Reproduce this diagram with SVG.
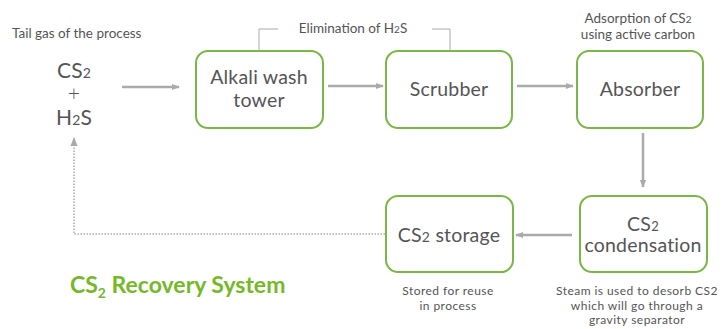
<svg xmlns="http://www.w3.org/2000/svg" width="728" height="329" viewBox="0 0 728 329">
<style>
text{font-family:Lato,"Open Sans","Liberation Sans",sans-serif;fill:#555;}
.box{fill:#fff;stroke:#7ab648;stroke-width:2;}
.bt{font-size:19.5px;text-anchor:middle;letter-spacing:0.2px;}
.sm{font-size:13.5px;text-anchor:middle;}
.bm{font-size:12px;text-anchor:middle;letter-spacing:0.45px;}
.ln{stroke:#aaa;stroke-width:2.5;fill:none;}
.dot{stroke:#aaa;stroke-width:1.5;fill:none;stroke-dasharray:1.5 1.5;}
.br{stroke:#aaa;stroke-width:1;fill:none;}
</style>
<defs>
<marker id="ah" viewBox="0 0 10 10" refX="9" refY="5" markerWidth="3.2" markerHeight="3.2" orient="auto" markerUnits="strokeWidth"><path d="M0,1 L10,5 L0,9 z" fill="#aaa"/></marker>
<marker id="ah2" viewBox="0 0 10 10" refX="9" refY="5" markerWidth="6" markerHeight="6" orient="auto" markerUnits="strokeWidth"><path d="M0,1 L10,5 L0,9 z" fill="#aaa"/></marker>
</defs>
<g id="connectors">
<line class="ln" x1="122" y1="87" x2="179" y2="87" marker-end="url(#ah)"/>
<line class="ln" x1="328" y1="86" x2="383" y2="86" marker-end="url(#ah)"/>
<line class="ln" x1="517" y1="86" x2="573" y2="86" marker-end="url(#ah)"/>
<line class="ln" x1="643" y1="133" x2="643" y2="187" marker-end="url(#ah)"/>
<line class="ln" x1="572" y1="235" x2="516" y2="235" marker-end="url(#ah)"/>
<polyline class="dot" points="385,234 74,234 74,138" marker-end="url(#ah2)"/>
<polyline class="br" points="278,29 259,29 259,50"/>
<polyline class="br" points="432,29 450,29 450,50"/>
</g>
<g id="source">
<text x="12" y="38" style="font-size:13.5px">Tail gas of the process</text>
<text x="74" y="78" class="bt" style="font-size:21px">CS<tspan style="font-size:14px">2</tspan></text>
<text x="74" y="101" class="bt" style="font-size:21px;font-weight:300">+</text>
<text x="74" y="125" class="bt" style="font-size:21px">H<tspan style="font-size:14px">2</tspan>S</text>
</g>
<g id="alkali">
<rect class="box" x="196" y="51" width="127" height="77" rx="12"/>
<text x="259" y="84" class="bt">Alkali wash</text>
<text x="259" y="107" class="bt">tower</text>
</g>
<g id="elimination">
<text x="353" y="33" class="sm">Elimination of H<tspan style="font-size:10px">2</tspan>S</text>
</g>
<g id="scrubber">
<rect class="box" x="386" y="51" width="126" height="77" rx="12"/>
<text x="449" y="96" class="bt">Scrubber</text>
</g>
<g id="absorber">
<rect class="box" x="577" y="51" width="126" height="77" rx="12"/>
<text x="640" y="96" class="bt">Absorber</text>
<text x="638" y="23" class="sm">Adsorption of CS<tspan style="font-size:10px">2</tspan></text>
<text x="638" y="39" class="sm">using active carbon</text>
</g>
<g id="condensation">
<rect class="box" x="580" y="196" width="127" height="76" rx="12"/>
<text x="643" y="231" class="bt">CS<tspan style="font-size:13px">2</tspan></text>
<text x="643" y="252" class="bt">condensation</text>
<text x="637" y="295" class="bm">Steam is used to desorb CS2</text>
<text x="637" y="309.5" class="bm">which will go through a</text>
<text x="637" y="324" class="bm">gravity separator</text>
</g>
<g id="storage">
<rect class="box" x="386" y="196" width="127" height="76" rx="12"/>
<text x="449" y="242" class="bt">CS<tspan style="font-size:14px">2</tspan> storage</text>
<text x="448" y="295" class="bm">Stored for reuse</text>
<text x="448" y="310" class="bm">in process</text>
</g>
<g id="title">
<text x="70" y="293" style="font-size:23px;font-weight:bold;fill:#76b82a">CS<tspan dy="5" style="font-size:14px">2</tspan><tspan dy="-5"> Recovery System</tspan></text>
</g>
</svg>
